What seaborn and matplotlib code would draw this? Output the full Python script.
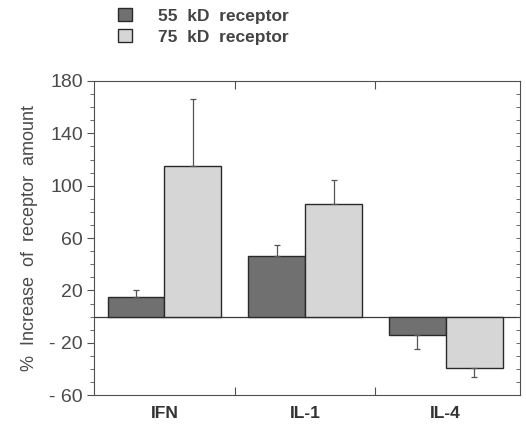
import matplotlib
matplotlib.use("Agg")
import matplotlib.pyplot as plt
import seaborn as sns
import pandas as pd
from matplotlib.ticker import MultipleLocator, FixedLocator

# values
cytokines = ["IFN", "IL-1", "IL-4"]
receptors = ["55  kD  receptor", "75  kD  receptor"]
r55_mean = [15, 46, -14]
r75_mean = [115, 86, -39]
r55_err = [5, 9, 11]
r75_err = [51, 18, 7.5]

df = pd.DataFrame({
    "cytokine": cytokines * 2,
    "receptor": [receptors[0]] * 3 + [receptors[1]] * 3,
    "value": r55_mean + r75_mean,
})
errs = r55_err + r75_err

sns.set_theme(style="white")
plt.rcParams["font.family"] = ["Liberation Sans", "DejaVu Sans"]

text_col = "#4a4a4a"
line_col = "#505050"

fig = plt.figure(figsize=(5.26, 4.24), dpi=100)
ax = fig.add_axes([0.179, 0.068, 0.810, 0.741])

sns.barplot(data=df, x="cytokine", y="value", hue="receptor",
            palette=["#707070", "#d6d6d6"], width=0.81, errorbar=None,
            edgecolor="#2a2a2a", linewidth=1.0, ax=ax, legend=True)

# one-sided error bars, drawn away from zero
bars = ax.patches[:6]
for patch, val, e in zip(bars, df["value"], errs):
    xc = patch.get_x() + patch.get_width() / 2
    yerr = [[0], [e]] if val >= 0 else [[e], [0]]
    ax.errorbar(xc, val, yerr=yerr, fmt="none", ecolor="#555555",
                elinewidth=0.9, capsize=2, capthick=0.9)

ax.axhline(0, color="#3a3a3a", linewidth=0.9, zorder=0.5)

ax.set_xlim(-0.5, 2.53)
ax.set_ylim(-60, 180)
ax.set_yticks([-60, -20, 20, 60, 100, 140, 180])
ax.set_yticklabels(["- 60", "- 20", "20", "60", "100", "140", "180"])
ax.yaxis.set_minor_locator(MultipleLocator(10))
ax.tick_params(axis="y", which="major", direction="out", length=5, width=0.8,
               color=line_col, labelsize=14, labelcolor=text_col, left=True, pad=3)
ax.tick_params(axis="y", which="minor", direction="out", length=3, width=0.6,
               color=line_col, left=True)

ax.xaxis.set_minor_locator(FixedLocator([0.5, 1.5]))
ax.tick_params(axis="x", which="major", length=0, labelsize=12.5,
               labelcolor="#333333", pad=8)
ax.tick_params(axis="x", which="minor", direction="in", length=6, width=0.8,
               color=line_col, top=True, bottom=True)
for lbl in ax.get_xticklabels():
    lbl.set_fontweight("bold")

ax.set_xlabel("")
ax.set_ylabel("%  Increase  of  receptor  amount", fontsize=13,
              color=text_col, labelpad=8)

for s in ax.spines.values():
    s.set_color(line_col)
    s.set_linewidth(0.8)

# inward ticks on the right spine
axr = ax.twinx()
axr.set_ylim(-60, 180)
axr.yaxis.set_major_locator(MultipleLocator(40))
axr.yaxis.set_minor_locator(MultipleLocator(10))
axr.tick_params(axis="y", which="both", direction="in", length=3, width=0.6,
                color=line_col, labelright=False)
axr.grid(False)
for s in axr.spines.values():
    s.set_visible(False)

handles, labels = ax.get_legend_handles_labels()
ax.get_legend().remove()
fig.legend(handles, labels, loc="upper left", bbox_to_anchor=(0.195, 1.018),
           frameon=False, handlelength=0.8, handleheight=0.8, handletextpad=1.5,
           labelspacing=0.3, prop={"size": 12.5, "weight": "bold"},
           labelcolor="#444444")

fig.savefig("out.png", dpi=100)
